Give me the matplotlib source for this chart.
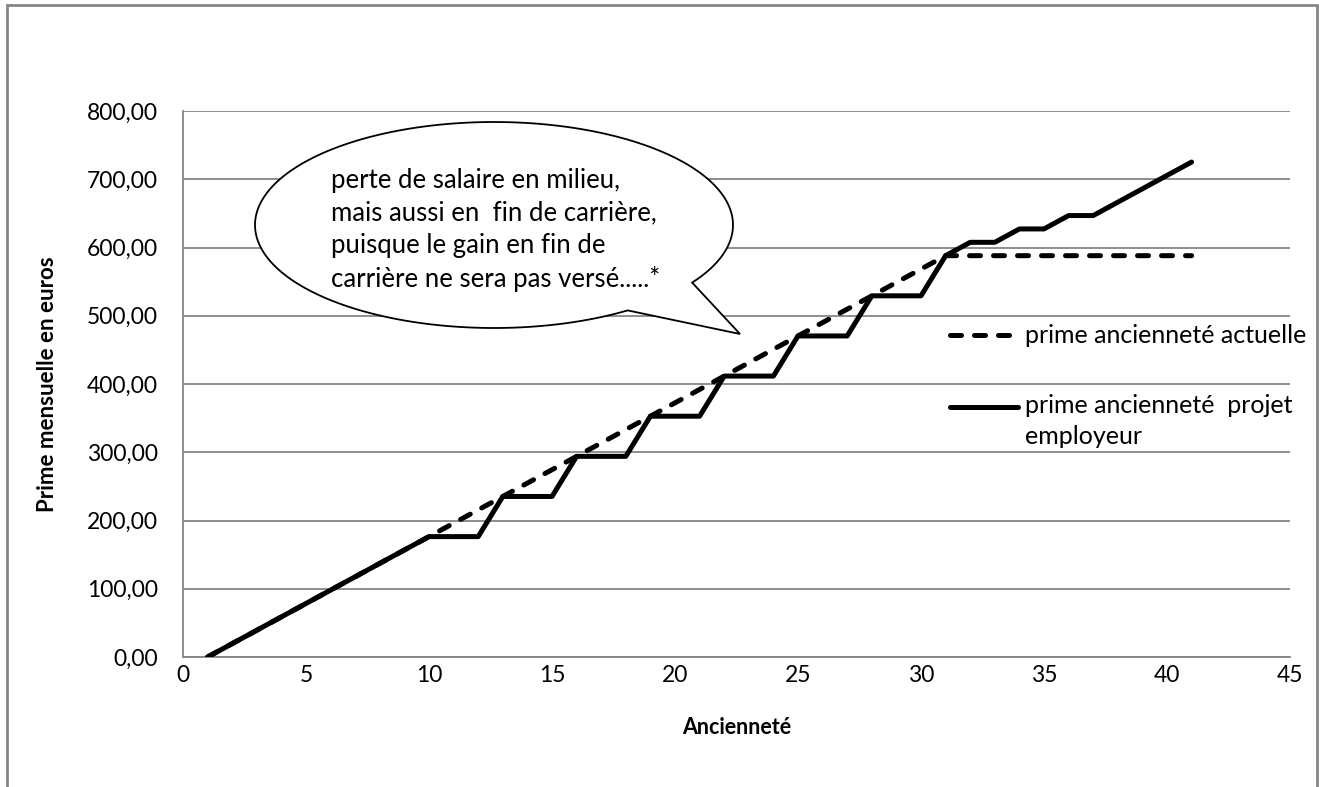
import numpy as np
import matplotlib
matplotlib.use("Agg")
import matplotlib.pyplot as plt
from matplotlib.patches import PathPatch, Rectangle
from matplotlib.path import Path
from matplotlib.lines import Line2D

plt.rcParams["font.family"] = ["Lato", "DejaVu Sans"]

# values
anciennete = list(range(1, 42))
prime_actuelle = [0, 19.6, 39.2, 58.8, 78.4, 98.0, 117.6, 137.2, 156.8, 176.4,
                  196.0, 215.6, 235.2, 254.8, 274.4, 294.0, 313.6, 333.2, 352.8, 372.4,
                  392.0, 411.6, 431.2, 450.8, 470.4, 490.0, 509.6, 529.2, 548.8, 568.4,
                  588.0, 588.0, 588.0, 588.0, 588.0, 588.0, 588.0, 588.0, 588.0, 588.0,
                  588.0]
prime_projet = [0, 19.6, 39.2, 58.8, 78.4, 98.0, 117.6, 137.2, 156.8, 176.4,
                176.4, 176.4, 235.2, 235.2, 235.2, 294.0, 294.0, 294.0, 352.8, 352.8,
                352.8, 411.6, 411.6, 411.6, 470.4, 470.4, 470.4, 529.2, 529.2, 529.2,
                588.0, 607.6, 607.6, 627.2, 627.2, 646.8, 646.8, 666.4, 686.0, 705.6,
                725.2]
label_actuelle = "prime ancienneté actuelle"
label_projet = "prime ancienneté  projet\nemployeur"
bulle = ("perte de salaire en milieu,\nmais aussi en  fin de carrière,\n"
         "puisque le gain en fin de\ncarrière ne sera pas versé.....*")

W, H = 1319, 787
fig = plt.figure(figsize=(W / 100, H / 100), dpi=100)
ax = fig.add_axes([183 / W, 1 - 657 / H, (1290 - 183) / W, (657 - 111) / H])

grey = "#868686"
dash_style = dict(color="black", lw=3.6, ls=(0, (2.2, 2.6)), dash_capstyle="round")
solid_style = dict(color="black", lw=3.6, solid_capstyle="round", solid_joinstyle="round")
ax.plot(anciennete, prime_actuelle, zorder=3, **dash_style)
ax.plot(anciennete, prime_projet, zorder=3, **solid_style)

ax.set_xlim(0, 45)
ax.set_ylim(0, 800)
ax.set_xticks(range(0, 46, 5))
ax.set_yticks(range(0, 801, 100))
ax.set_yticklabels([f"{v},00" for v in range(0, 801, 100)])
ax.tick_params(length=0, labelsize=16.5)
ax.tick_params(axis="x", pad=6)
ax.tick_params(axis="y", pad=18)
ax.grid(axis="y", color=grey, lw=1.3)
ax.set_axisbelow(True)
for s in ["top", "right"]:
    ax.spines[s].set_visible(False)
for s in ["left", "bottom"]:
    ax.spines[s].set_color(grey)
    ax.spines[s].set_linewidth(1.3)

ax.set_xlabel("Ancienneté", fontsize=15.5, fontweight="bold", va="center")
ax.set_ylabel("Prime mensuelle en euros", fontsize=16, fontweight="bold", va="center")
ax.xaxis.set_label_coords(0.5, (657 - 727) / 546)
ax.yaxis.set_label_coords((48 - 183) / 1107, 0.5)

# legend, drawn like the original: sample aligned with the first text line
def fx(x):
    return x / W

def fy(y):
    return 1 - y / H

fig.add_artist(Line2D([fx(950), fx(1016)], [fy(335), fy(335)], **dash_style))
fig.text(fx(1025), fy(335), label_actuelle, fontsize=18, va="center", ha="left")
fig.add_artist(Line2D([fx(950), fx(1018)], [fy(407), fy(407)], **solid_style))
fig.text(fx(1025), fy(394), label_projet, fontsize=18, va="top", ha="left",
         linespacing=1.42)

# speech bubble (pixel geometry from the picture)
cx, cy, a, b = 494, 225, 239, 103
t1, t2 = np.radians(34), np.radians(56)
t = np.linspace(t2, t1 + 2 * np.pi, 200)
px = list(cx + a * np.cos(t)) + [740, cx + a * np.cos(t2)]
py = list(cy + b * np.sin(t)) + [334, cy + b * np.sin(t2)]
verts = [(fx(x), fy(y)) for x, y in zip(px, py)]
codes = [Path.MOVETO] + [Path.LINETO] * (len(verts) - 2) + [Path.CLOSEPOLY]
fig.add_artist(PathPatch(Path(verts, codes), facecolor="white", edgecolor="black",
                         lw=1.3, transform=fig.transFigure, zorder=5))
fig.text(fx(331), fy(168), bulle, fontsize=18.5, va="top", ha="left",
         linespacing=1.38, zorder=6)

# outer chart border
fig.add_artist(Rectangle((fx(6.5), -0.05), (1317 - 6.5) / W, 1.05 - 5 / H,
                         transform=fig.transFigure, fill=False, edgecolor=grey, lw=2))

fig.savefig("out.png", dpi=100)
